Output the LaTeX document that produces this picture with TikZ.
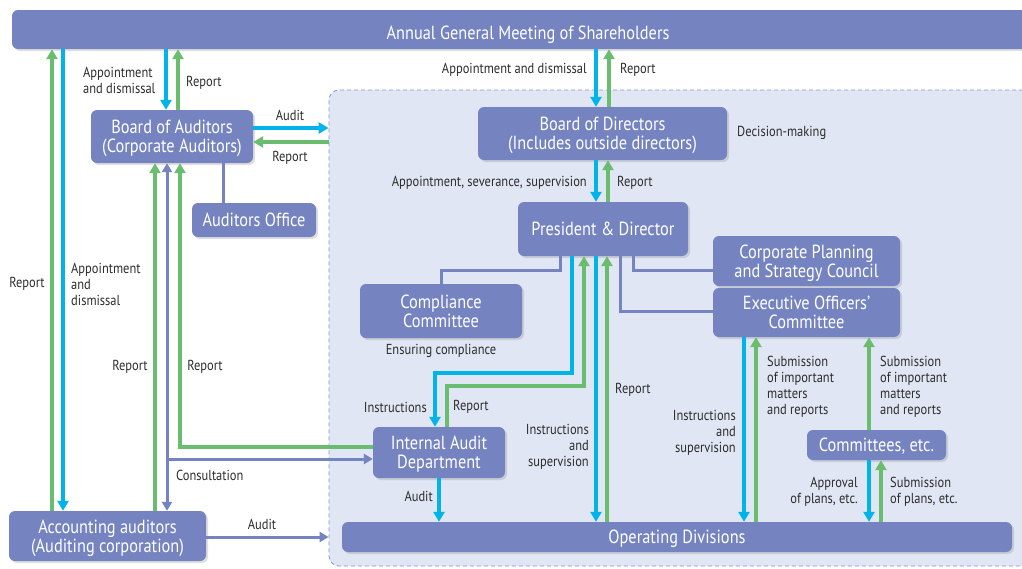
\documentclass[tikz,border=0pt]{standalone}
\usepackage{fontspec}
\setmainfont{PT Sans}[FakeStretch=0.86]
\usetikzlibrary{arrows.meta,shadows}
\definecolor{boxc}{RGB}{117,132,192}
\definecolor{cyanc}{RGB}{0,180,234}
\definecolor{greenc}{RGB}{106,189,110}
\definecolor{regionc}{RGB}{225,230,244}
\definecolor{dashc}{RGB}{136,147,208}
\definecolor{txtc}{RGB}{45,45,45}
\begin{document}
\begin{tikzpicture}[x=1pt,y=-1pt,
  box/.style={fill=boxc, rounded corners=6pt, text=white,
    font=\fontsize{19}{19}\selectfont, align=center, inner sep=0pt, text depth=0pt,
    drop shadow={shadow xshift=2pt, shadow yshift=-2pt, opacity=0.25}},
  lab/.style={font=\fontsize{14.5}{16}\selectfont, text=txtc, inner sep=0pt},
  tip/.style={-{Triangle[width=11pt,length=10pt]}},
  cy/.style={draw=cyanc, line width=4pt, tip},
  gr/.style={draw=greenc, line width=4pt, tip},
  sl/.style={draw=boxc, line width=3pt},
  slarr/.style={draw=boxc, line width=3pt, -{Triangle[width=10pt,length=9pt]}},
  slboth/.style={draw=boxc, line width=3pt, {Triangle[width=10pt,length=9pt]}-{Triangle[width=10pt,length=9pt]}},
  region/.style={draw=dashc, dash pattern=on 4pt off 3pt, line width=0.8pt, fill=regionc,
    rounded corners=10pt, inner sep=0pt}
]
\useasboundingbox (0,0) rectangle (1022,568);
\fill[white] (0,0) rectangle (1022,568);

% region
\node[region, minimum width=711pt, minimum height=476pt] (reg) at (684.5,328) {};

% boxes
\node[box, minimum width=1032pt, minimum height=39pt, text height=20pt] (agm) at (528,29.5) {Annual General Meeting of Shareholders};
\node[box, minimum width=162pt, minimum height=53pt] (boa) at (172,136.5) {Board of Auditors\\(Corporate Auditors)};
\node[box, minimum width=124pt, minimum height=34pt] (ao) at (254,220) {Auditors Office};
\node[box, minimum width=249pt, minimum height=53pt] (bod) at (602.5,133.5) {Board of Directors\\(Includes outside directors)};
\node[box, minimum width=170pt, minimum height=54pt] (pd) at (603,229) {President \& Director};
\node[box, minimum width=187pt, minimum height=50pt] (cps) at (806.5,261) {Corporate Planning\\and Strategy Council};
\node[box, minimum width=187pt, minimum height=49pt] (eoc) at (806.5,312.5) {Executive Officers'\\Committee};
\node[box, minimum width=162pt, minimum height=54pt] (cc) at (441,311) {Compliance\\Committee};
\node[box, minimum width=132pt, minimum height=51pt] (iad) at (439,452.5) {Internal Audit\\Department};
\node[box, minimum width=139pt, minimum height=30pt] (com) at (876.5,445) {Committees, etc.};
\node[box, minimum width=670pt, minimum height=30pt] (od) at (677,537) {Operating Divisions};
\node[box, minimum width=197pt, minimum height=50pt] (aa) at (107.5,536) {Accounting auditors\\(Auditing corporation)};

% labels
\node[lab, anchor=west, align=left] (l1) at (83,80) {Appointment\\and dismissal};
\node[lab, anchor=west] (l2) at (186,83) {Report};
\node[lab] (l3) at (290,115) {Audit};
\node[lab] (l4) at (290,158) {Report};
\node[lab] (l5) at (27,284) {Report};
\node[lab, anchor=west, align=left] (l6) at (71,284) {Appointment\\and\\dismissal};
\node[lab] (l7) at (130,367) {Report};
\node[lab] (l8) at (205,367) {Report};
\node[lab, anchor=west] (l9) at (176,475) {Consultation};
\node[lab] (l10) at (262,524) {Audit};
\node[lab, anchor=east] (l11) at (587,70) {Appointment and dismissal};
\node[lab, anchor=west] (l12) at (620,70) {Report};
\node[lab, anchor=west] (l13) at (737,133) {Decision-making};
\node[lab, anchor=east] (l14) at (587,183) {Appointment, severance, supervision};
\node[lab, anchor=west] (l15) at (617,183) {Report};
\node[lab] (l16) at (441,351) {Ensuring compliance};
\node[lab, anchor=east] (l17) at (427,407) {Instructions};
\node[lab, anchor=west] (l18) at (453,407) {Report};
\node[lab, anchor=west] (l19) at (615,390) {Report};
\node[lab, anchor=east, align=right] (l20) at (589,447) {Instructions\\and\\supervision};
\node[lab, anchor=east] (l21) at (433,496) {Audit};
\node[lab, anchor=east, align=right] (l22) at (736,433) {Instructions\\and\\supervision};
\node[lab, anchor=west, align=left] (l23) at (767,387) {Submission\\of important\\matters\\and reports};
\node[lab, anchor=west, align=left] (l24) at (880,387) {Submission\\of important\\matters\\and reports};
\node[lab, anchor=east, align=right] (l25) at (858,492) {Approval\\of plans, etc.};
\node[lab, anchor=west, align=left] (l26) at (890,492) {Submission\\of plans, etc.};

% AGM <-> Accounting auditors
\draw[cy] (63,0 |- agm.south) -- (63,0 |- aa.north);
\draw[gr] (52,0 |- aa.north) -- (52,0 |- agm.south);
% AGM <-> Board of Auditors
\draw[cy] (166,0 |- agm.south) -- (166,0 |- boa.north);
\draw[gr] (178,0 |- boa.north) -- (178,0 |- agm.south);
% Board of Auditors <-> region
\draw[cy] (boa.east |- 0,128) -- (reg.west |- 0,128);
\draw[gr] (reg.west |- 0,142) -- (boa.east |- 0,142);
% Auditors office
\draw[sl] (223,0 |- boa.south) -- (223,0 |- ao.north);
% Board of Auditors bottom
\draw[gr] (155,0 |- aa.north) -- (155,0 |- boa.south);
\draw[slboth] (167,0 |- boa.south) -- (167,0 |- aa.north);
\coordinate (cons) at (167,459);
\draw[slarr] (cons) -- (iad.west |- cons);
\draw[gr] (iad.west |- 0,447) -- (180,447) -- (180,0 |- boa.south);
% Accounting auditors audit
\draw[slarr] (aa.east |- 0,537) -- (reg.west |- 0,537);
% AGM <-> BoD
\draw[cy] (596,0 |- agm.south) -- (596,0 |- bod.north);
\draw[gr] (609,0 |- bod.north) -- (609,0 |- agm.south);
% BoD <-> PD
\draw[cy] (596,0 |- bod.south) -- (596,0 |- pd.north);
\draw[gr] (608,0 |- pd.north) -- (608,0 |- bod.south);
% PD bottom
\draw[sl] (441,0 |- cc.north) -- (441,270) -- (560,270) -- (560,0 |- pd.south);
\draw[cy] (572,0 |- pd.south) -- (572,373) -- (435,373) -- (435,0 |- iad.north);
\draw[gr] (447,0 |- iad.north) -- (447,386) -- (584,386) -- (584,0 |- pd.south);
\draw[cy] (596,0 |- pd.south) -- (596,0 |- od.north);
\draw[gr] (607,0 |- od.north) -- (607,0 |- pd.south);
\draw[sl] (620,0 |- pd.south) -- (620,311) -- (eoc.west |- 0,311);
\draw[sl] (633,0 |- pd.south) -- (633,270) -- (cps.west |- 0,270);
% IAD -> OD
\draw[cy] (439,0 |- iad.south) -- (439,0 |- od.north);
% EOC <-> OD
\draw[cy] (744,0 |- eoc.south) -- (744,0 |- od.north);
\draw[gr] (756,0 |- od.north) -- (756,0 |- eoc.south);
% Committees
\draw[gr] (869,0 |- com.north) -- (869,0 |- eoc.south);
\draw[cy] (869,0 |- com.south) -- (869,0 |- od.north);
\draw[gr] (881,0 |- od.north) -- (881,0 |- com.south);
\end{tikzpicture}
\end{document}
